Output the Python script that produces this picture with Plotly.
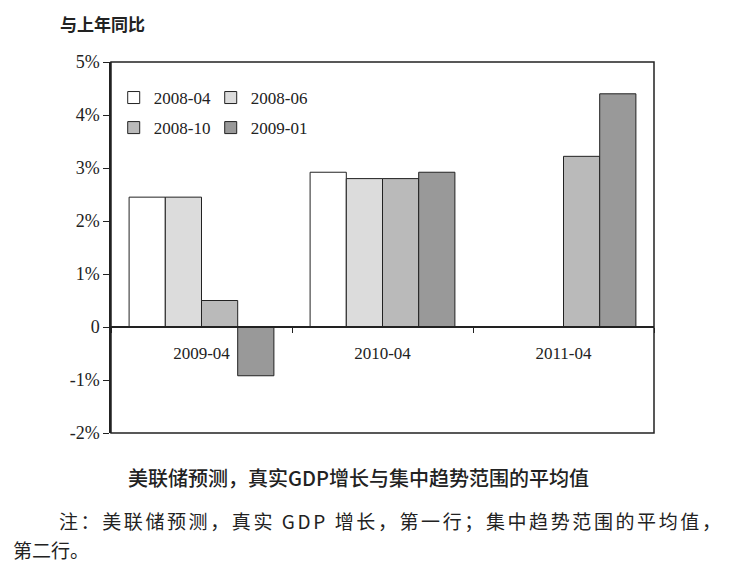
import plotly.graph_objects as go

# 预测发布时间（系列）与预测年份（类别）
periods = ["2009-04", "2010-04", "2011-04"]
series_names = ["2008-04", "2008-06", "2008-10", "2009-01"]
v_2008_04 = [2.45, 2.92, None]
v_2008_06 = [2.45, 2.8, None]
v_2008_10 = [0.5, 2.8, 3.22]
v_2009_01 = [-0.92, 2.92, 4.4]
bar_colors = ["#ffffff", "#dcdcdc", "#bababa", "#999999"]

ytick_vals = [-2, -1, 0, 1, 2, 3, 4, 5]
ytick_text = ["-2%", "-1%", "0", "1%", "2%", "3%", "4%", "5%"]

serif = "Liberation Serif, Times New Roman, serif"
cjk = "Noto Sans CJK SC, sans-serif"
ink = "#222222"

fig = go.Figure()
all_vals = [v_2008_04, v_2008_06, v_2008_10, v_2009_01]
for i, (name, vals) in enumerate(zip(series_names, all_vals)):
    fig.add_trace(go.Bar(
        x=periods, y=vals, name=name,
        marker=dict(color=bar_colors[i], line=dict(color=ink, width=1)),
        legend="legend" if i < 2 else "legend2",
    ))

legend_style = dict(orientation="h", x=0.005, xanchor="left", yanchor="middle",
                    bgcolor="rgba(0,0,0,0)", font=dict(family=serif, size=17, color=ink),
                    itemwidth=30, entrywidth=52, tracegroupgap=0)

# the page has an 8px body margin, so the margins are reduced by 8
fig.update_layout(
    width=743, height=583,
    margin=dict(l=103, r=97, t=54, b=158),
    paper_bgcolor="white", plot_bgcolor="white",
    barmode="group", bargap=0.2, bargroupgap=0,
    font=dict(family=serif, color=ink, size=16),
    legend=dict(legend_style, y=0.903),
    legend2=dict(legend_style, y=0.822),
    xaxis=dict(
        type="category", anchor="free", position=2 / 7,
        showline=True, linecolor=ink, linewidth=1.5,
        ticks="outside", ticklen=5, tickcolor=ink, tickson="boundaries",
        showgrid=False, ticklabelstandoff=11,
        tickfont=dict(family=serif, size=17, color=ink),
    ),
    yaxis=dict(
        range=[-2, 5], tickvals=ytick_vals, ticktext=ytick_text,
        showline=True, linecolor=ink, linewidth=1.5,
        ticks="outside", ticklen=6, tickcolor=ink,
        showgrid=False, zeroline=False,
        tickfont=dict(family=serif, size=18, color=ink),
    ),
    shapes=[dict(type="rect", xref="paper", yref="paper", x0=0, x1=1, y0=0, y1=1,
                 line=dict(color=ink, width=1.5))],
    annotations=[
        dict(text="<b>与上年同比</b>", xref="paper", yref="paper", x=-0.098, y=1.065,
             xanchor="left", yanchor="bottom", showarrow=False,
             font=dict(family=cjk, size=17, color=ink)),
        dict(text="美联储预测，真实GDP增长与集中趋势范围的平均值", xref="paper", yref="paper",
             x=0.455, y=-0.12, xanchor="center", yanchor="middle", showarrow=False,
             font=dict(family=cjk, size=20, color=ink, weight=500)),
        dict(text='<span style="letter-spacing:2.6px">注：美联储预测，真实 GDP 增长，第一行；集中趋势范围的平均值，</span>',
             xref="paper", yref="paper", x=-0.1, y=-0.235, xanchor="left", yanchor="middle",
             showarrow=False, font=dict(family=cjk, size=19, color=ink)),
        dict(text="第二行。", xref="paper", yref="paper", x=-0.185, y=-0.315,
             xanchor="left", yanchor="middle", showarrow=False,
             font=dict(family=cjk, size=19, color=ink)),
    ],
)

fig.write_html("out.html")
